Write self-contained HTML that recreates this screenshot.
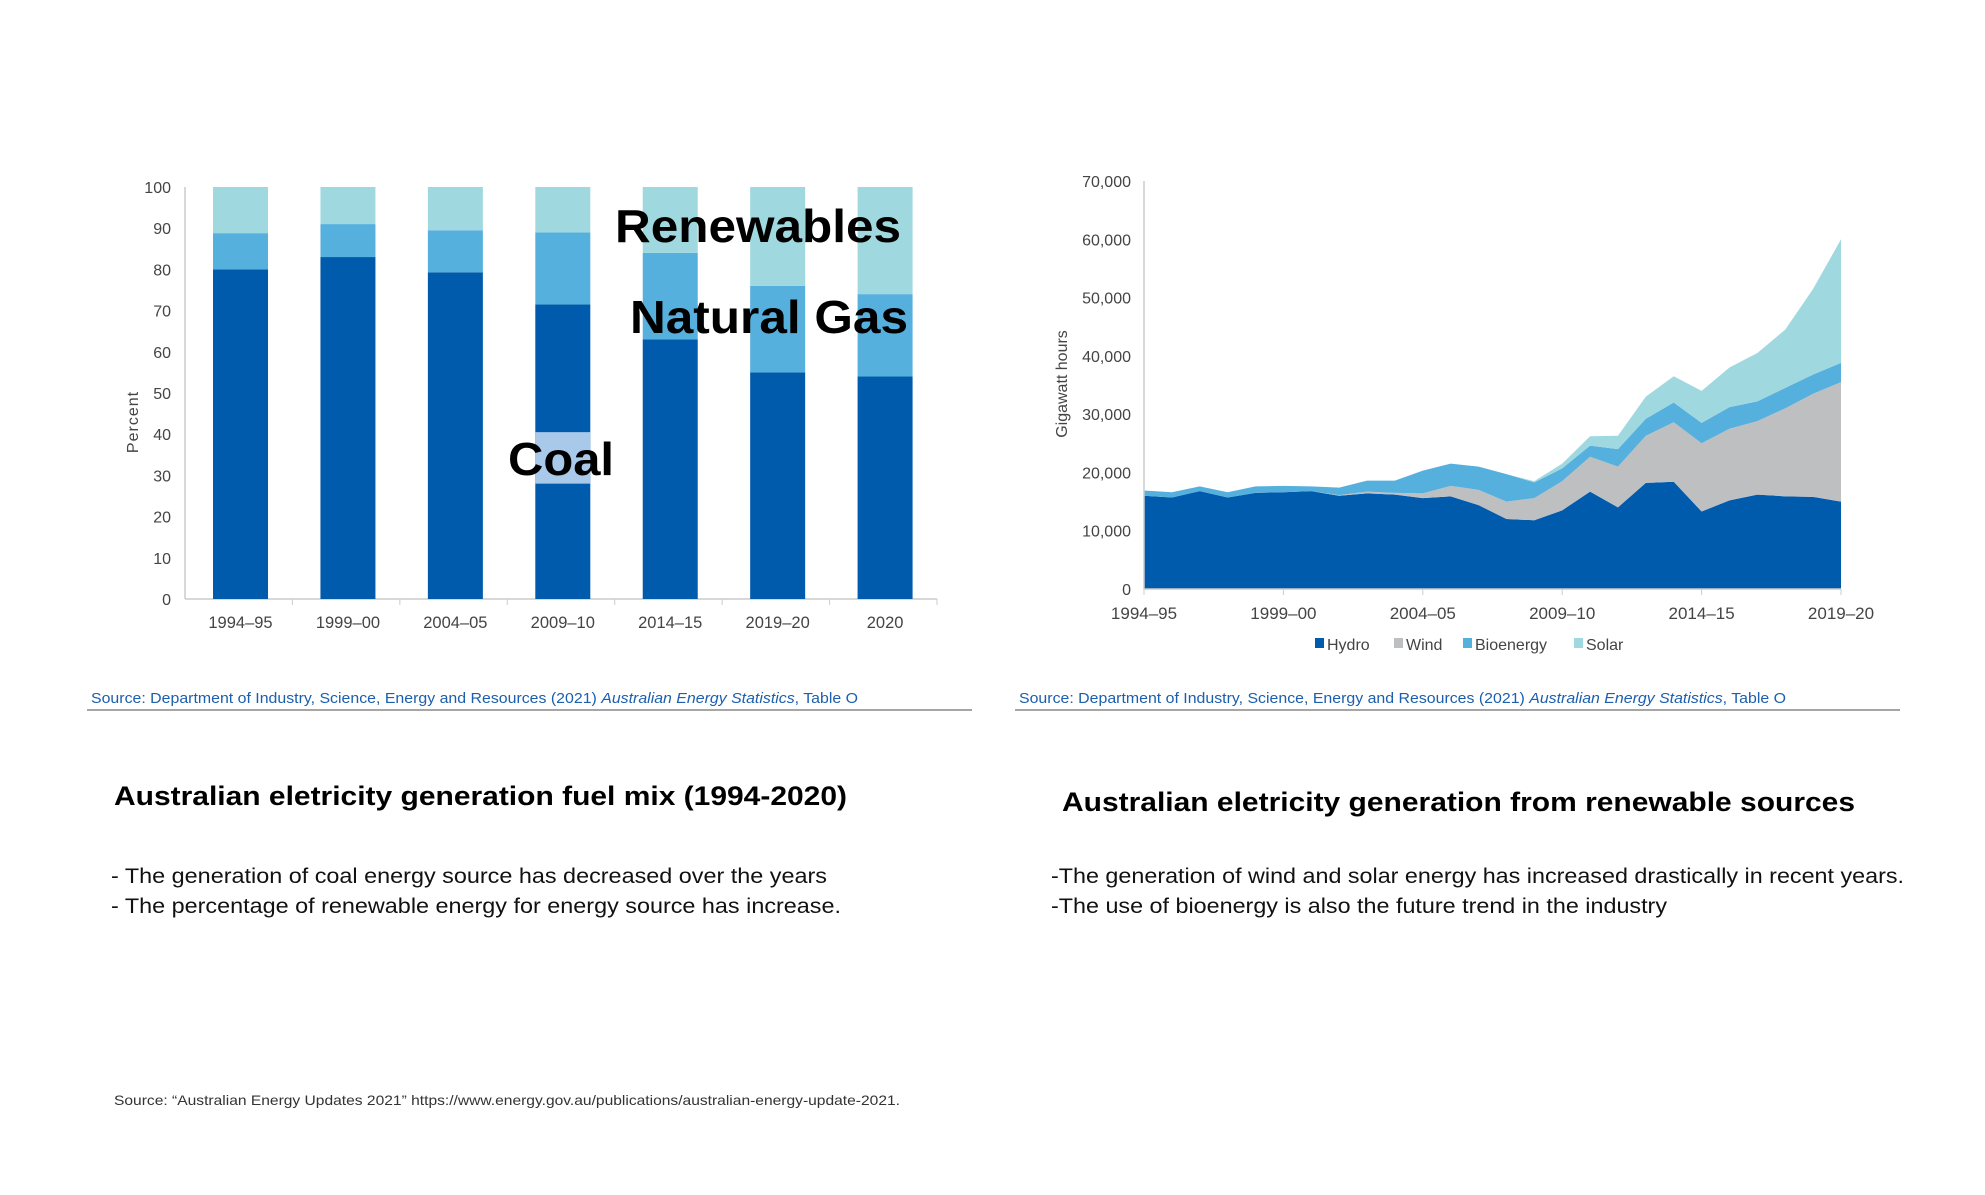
<!DOCTYPE html>
<html><head><meta charset="utf-8"><style>
html,body{margin:0;padding:0;background:#fff;}
svg{display:block;font-family:"Liberation Sans",Arial,sans-serif;}
</style></head><body>
<svg id="page" width="1985" height="1195" viewBox="0 0 1985 1195" xmlns="http://www.w3.org/2000/svg">
<g id="left"></g>
<g id="right"></g>

<text x="91" y="703" font-size="14.5" fill="#1b5fae" textLength="767" lengthAdjust="spacingAndGlyphs">Source: Department of Industry, Science, Energy and Resources (2021) <tspan font-style="italic">Australian Energy Statistics</tspan>, Table O</text>
<line x1="87" y1="710" x2="972" y2="710" stroke="#888" stroke-width="1.5"/>
<text x="1019" y="703" font-size="14.5" fill="#1b5fae" textLength="767" lengthAdjust="spacingAndGlyphs">Source: Department of Industry, Science, Energy and Resources (2021) <tspan font-style="italic">Australian Energy Statistics</tspan>, Table O</text>
<line x1="1015" y1="710" x2="1900" y2="710" stroke="#888" stroke-width="1.5"/>

<text x="114" y="805" font-size="27" font-weight="bold" fill="#000" textLength="733" lengthAdjust="spacingAndGlyphs">Australian eletricity generation fuel mix (1994-2020)</text>
<text x="1062" y="811" font-size="27" font-weight="bold" fill="#000" textLength="793" lengthAdjust="spacingAndGlyphs">Australian eletricity generation from renewable sources</text>

<text x="111" y="883" font-size="21" fill="#111" textLength="716" lengthAdjust="spacingAndGlyphs">- The generation of coal energy source has decreased over the years</text>
<text x="111" y="913" font-size="21" fill="#111" textLength="730" lengthAdjust="spacingAndGlyphs">- The percentage of renewable energy for energy source has increase.</text>
<text x="1051" y="883" font-size="21" fill="#111" textLength="853" lengthAdjust="spacingAndGlyphs">-The generation of wind and solar energy has increased drastically in recent years.</text>
<text x="1051" y="913" font-size="21" fill="#111" textLength="616" lengthAdjust="spacingAndGlyphs">-The use of bioenergy is also the future trend in the industry</text>

<text x="114" y="1105" font-size="14" fill="#333" textLength="786" lengthAdjust="spacingAndGlyphs">Source: “Australian Energy Updates 2021” https://www.energy.gov.au/publications/australian-energy-update-2021.</text>
</svg>
<script>
const NS="http://www.w3.org/2000/svg";
// ---- Left chart data ----
const barCategories=["1994–95","1999–00","2004–05","2009–10","2014–15","2019–20","2020"];
const coalValues=[80,83,79.3,71.5,63,55,54];
const gasValues=[8.8,8,10.2,17.5,21,21,20];
const renewableValues=[11.2,9,10.5,11,16,24,26];
const percentTicks=[0,10,20,30,40,50,60,70,80,90,100];
// ---- Right chart data (GWh) ----
const areaCategories=["1994–95","1995–96","1996–97","1997–98","1998–99","1999–00","2000–01","2001–02","2002–03","2003–04","2004–05","2005–06","2006–07","2007–08","2008–09","2009–10","2010–11","2011–12","2012–13","2013–14","2014–15","2015–16","2016–17","2017–18","2018–19","2019–20"];
const hydroValues=[16000,15700,16800,15700,16500,16600,16800,16000,16400,16200,15600,15900,14400,12000,11800,13500,16700,14000,18200,18400,13300,15200,16200,15900,15800,15000];
const windValues=[0,0,0,0,0,0,0,100,300,300,800,1800,2600,3000,3800,5000,6000,7000,8100,10200,11700,12300,12600,15100,17700,20500];
const bioValues=[900,900,800,900,1100,1100,800,1300,1900,2100,3900,3800,4000,4700,2700,2200,1900,3000,2900,3400,3500,3700,3400,3500,3300,3300];
const solarValues=[0,0,0,0,0,0,0,0,0,0,0,0,0,0,200,800,1600,2300,3800,4500,5500,6800,8300,10000,14700,21200];
const gwhTicks=[0,10000,20000,30000,40000,50000,60000,70000];
const gwhTickLabels=["0","10,000","20,000","30,000","40,000","50,000","60,000","70,000"];
const xTickLabels=["1994–95","1999–00","2004–05","2009–10","2014–15","2019–20"];
const xTickIndex=[0,5,10,15,20,25];

function mk(tag,attrs,parent,text){const e=document.createElementNS(NS,tag);for(const k in attrs)e.setAttribute(k,attrs[k]);if(text!=null)e.textContent=text;parent.appendChild(e);return e;}

// Left chart
const L=document.getElementById('left');
const lx0=185,lx1=937,ly0=599,ly1=187;
const yL=v=>ly0-(v/100)*(ly0-ly1);
const slot=(lx1-lx0)/barCategories.length;
const xL=i=>lx0+slot*(i+0.5)+1.8;
const bw=55;
percentTicks.forEach(t=>{
  const tx=mk('text',{x:171,y:yL(t)+6,'font-size':16,'text-anchor':'end',fill:'#444'},L,String(t));
  
  
});
const ya=mk('line',{x1:lx0,y1:ly1,x2:lx0,y2:ly0,stroke:'#ccc','stroke-width':1.5},L);


const xa=mk('line',{x1:lx0,y1:ly0,x2:lx1,y2:ly0,stroke:'#ccc','stroke-width':1.5},L);


const colorsL=['#005bac','#56b0de','#a0d8e0'];
barCategories.forEach((c,i)=>{
  const segs=[coalValues[i],gasValues[i],renewableValues[i]];
  let acc=0;
  segs.forEach((v,k)=>{
    const r=mk('rect',{x:xL(i)-bw/2,y:yL(acc+v),width:bw,height:yL(acc)-yL(acc+v),fill:colorsL[k]},L);
    
    
    acc+=v;
  });
  const tl=mk('text',{x:xL(i),y:628,'font-size':16.5,'text-anchor':'middle',fill:'#444'},L,c);
  
  
  const tk=mk('line',{x1:lx0+slot*(i+1),y1:ly0,x2:lx0+slot*(i+1),y2:ly0+6,stroke:'#ccc'},L);
  
  
});
const yt=mk('text',{x:0,y:0,'font-size':16,fill:'#444','text-anchor':'middle','letter-spacing':1,transform:'translate(138,422) rotate(-90)'},L,'Percent');


const cb=mk('rect',{x:xL(3)-bw/2,y:yL(40.5),width:bw,height:yL(28)-yL(40.5),fill:'#a9c9ea'},L);


const an1=mk('text',{x:615,y:242,'font-size':46,'font-weight':'bold',fill:'#000',textLength:286,lengthAdjust:'spacingAndGlyphs'},L,'Renewables');


const an2=mk('text',{x:630,y:333,'font-size':46,'font-weight':'bold',fill:'#000',textLength:278,lengthAdjust:'spacingAndGlyphs'},L,'Natural Gas');


const an3=mk('text',{x:508,y:475,'font-size':46,'font-weight':'bold',fill:'#000',textLength:106,lengthAdjust:'spacingAndGlyphs'},L,'Coal');



// Right chart
const R=document.getElementById('right');
const rx0=1144,rx1=1841,ry0=589,ry1=181;
const yR=v=>ry0-(v/70000)*(ry0-ry1);
const xR=i=>rx0+(rx1-rx0)*i/(areaCategories.length-1);
gwhTicks.forEach((t,k)=>{
  const tx=mk('text',{x:1131,y:yR(t)+6,'font-size':16,'text-anchor':'end',fill:'#444'},R,gwhTickLabels[k]);
  
  
});
const series=[hydroValues,windValues,bioValues,solarValues];
const sNames=['hydro','wind','bioenergy','solar'];
const sColors=['#005bac','#bebfc1','#56b0de','#a0d8e0'];
let base=areaCategories.map(()=>0);
series.forEach((s,k)=>{
  const top=base.map((b,i)=>b+s[i]);
  let d='M'+areaCategories.map((_,i)=>xR(i)+','+yR(top[i])).join(' L');
  for(let i=areaCategories.length-1;i>=0;i--)d+=' L'+xR(i)+','+yR(base[i]);
  d+=' Z';
  const p=mk('path',{d:d,fill:sColors[k]},R);
  
  
  base=top;
});
const rya=mk('line',{x1:rx0,y1:ry1,x2:rx0,y2:ry0,stroke:'#ccc','stroke-width':1.5},R);


const rxa=mk('line',{x1:rx0,y1:ry0,x2:rx1,y2:ry0,stroke:'#ccc','stroke-width':1.5},R);


xTickIndex.forEach((ix,k)=>{
  const tk=mk('line',{x1:xR(ix),y1:ry0,x2:xR(ix),y2:ry0+6,stroke:'#ccc'},R);
  
  
  const tl=mk('text',{x:xR(ix),y:619,'font-size':17,'text-anchor':'middle',fill:'#444'},R,xTickLabels[k]);
  
  
});
const ryt=mk('text',{x:0,y:0,'font-size':16,fill:'#444','text-anchor':'middle',transform:'translate(1067,384) rotate(-90)'},R,'Gigawatt hours');


const legX=[1315,1394,1463,1574];
const legLabels=['Hydro','Wind','Bioenergy','Solar'];
legLabels.forEach((lab,k)=>{
  const g=mk('g',{},R);
  
  
  mk('rect',{x:legX[k],y:638,width:9,height:10,fill:sColors[k]},g);
  mk('text',{x:legX[k]+12,y:650,'font-size':16,fill:'#444'},g,lab);
});
</script>
</body></html>
